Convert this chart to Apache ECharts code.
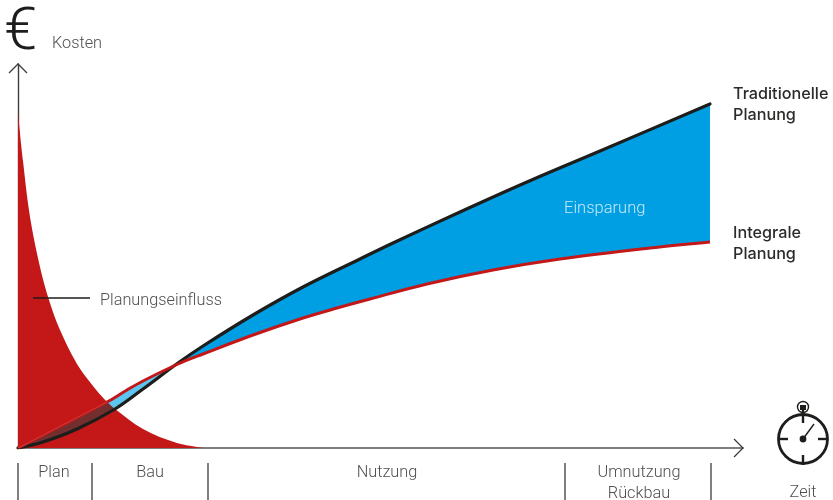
<!DOCTYPE html>
<html>
<head>
<meta charset="utf-8">
<style>html,body{margin:0;padding:0;background:#fff}#c{width:833px;height:500px}</style>
<script src="https://cdn.jsdelivr.net/npm/echarts@6/dist/echarts.min.js"></script>
</head>
<body>
<div id="c"></div>
<script>
// Lifecycle costs over time
const traditionalX = [0, 25, 59, 97, 125, 160, 185, 235, 285, 342, 375, 442, 509, 582, 692];
const traditionalY = [0, 6, 19, 39, 59, 85, 102, 133, 161, 189, 205, 236, 266, 297, 344];
const integralX = [0, 89, 109, 125, 160, 185, 235, 285, 319, 352, 409, 475, 542, 632, 692];
const integralY = [0, 46, 58, 67, 84, 94, 113, 130, 140, 149, 164, 178, 189, 200, 206];
const influenceX = [0, 5, 12, 22, 31, 42, 59, 75, 89, 97, 125, 159, 187];
const influenceY = [335, 287, 231, 181, 148, 118, 84, 62, 46, 39, 19, 5, 0];
const leaderX = [15, 72];
const leaderY = [150, 150];
const phaseEdges = [0, 74, 190, 547, 693];
const phaseCentres = [36, 132, 369, 621];
const phaseNames = ['Plan', 'Bau', 'Nutzung', 'Umnutzung\nRückbau'];
const crossingX = 160;
const influenceJoinTop = 89;
const influenceJoinBottom = 97;

const FONT = 'Roboto';
const TEXT = '#4f4f4e';
const zip = (xs, ys) => xs.map((x, i) => [x, ys[i]]);
const traditional = zip(traditionalX, traditionalY);
const integral = zip(integralX, integralY);
const influence = zip(influenceX, influenceY);

// Filled region bounded by an upper edge and a lower edge
function bandSeries(upper, lower, color, z) {
  return {
    type: 'custom', coordinateSystem: 'cartesian2d', silent: true, z, clip: false,
    data: [[0, 0]],
    renderItem: (params, api) => ({
      type: 'polygon',
      shape: { points: upper.concat(lower.slice().reverse()).map(p => api.coord(p)) },
      style: { fill: color }
    })
  };
}

function text(x, y, str, size, opts) {
  return {
    type: 'text', x, y, silent: true, z: 20,
    style: Object.assign({
      text: str, fontFamily: FONT, fontSize: size, fontWeight: 300,
      fill: TEXT, textAlign: 'left', textVerticalAlign: 'middle'
    }, opts || {})
  };
}
const stroke = (x1, y1, x2, y2, w, color) => ({
  type: 'line', silent: true, z: 20, shape: { x1, y1, x2, y2 },
  style: { stroke: color || '#1d1d1b', lineWidth: w }
});
const openArrow = (points) => ({
  type: 'polyline', silent: true, z: 20, shape: { points },
  style: { stroke: '#3c3c3b', lineWidth: 1.3, fill: 'none' }
});
const endLabel = (formatter, dy) => ({
  show: true, distance: 23, align: 'left', fontFamily: 'Inter', fontWeight: 500, fontSize: 16.2,
  lineHeight: 21, color: '#2b2b2a', formatter, offset: [0, dy]
});

const chart = echarts.init(document.getElementById('c'), null, { renderer: 'canvas' });
chart.setOption({
  animation: false,
  backgroundColor: '#fff',
  grid: { left: 18, top: 64, width: 725, height: 384, containLabel: false, outerBoundsMode: 'none' },
  xAxis: [
    {
      type: 'value', min: 0, max: 725, splitLine: { show: false },
      axisLine: { onZero: false, lineStyle: { color: '#565655', width: 1.6 } },
      axisTick: { show: false }, axisLabel: { show: false }
    },
    {
      type: 'value', min: 0, max: 725, position: 'bottom', offset: 15, splitLine: { show: false },
      axisLine: { show: false },
      axisTick: { show: false },
      axisLabel: {
        show: true, margin: -1, customValues: phaseCentres, fontFamily: FONT, fontWeight: 300, fontSize: 16.3,
        color: TEXT, lineHeight: 21, verticalAlign: 'top',
        formatter: v => phaseNames[phaseCentres.indexOf(v)]
      }
    }
  ],
  yAxis: {
    type: 'value', min: 0, max: 384, splitLine: { show: false },
    axisLine: { onZero: false, lineStyle: { color: '#3c3c3b', width: 1.4 } },
    axisTick: { show: false }, axisLabel: { show: false }
  },
  series: [
    {
      name: 'Planungseinfluss', type: 'line', data: influence, smooth: 0.35, symbol: 'none', z: 2,
      lineStyle: { width: 0 }, areaStyle: { color: '#c41718', opacity: 1 }, silent: true
    },
    bandSeries(traditional.filter(p => p[0] >= crossingX), integral.filter(p => p[0] >= crossingX), '#009fe3', 3),
    bandSeries(integral.filter(p => p[0] >= influenceJoinTop && p[0] <= crossingX),
               traditional.filter(p => p[0] >= influenceJoinBottom && p[0] <= crossingX), '#5cc5f0', 3),
    bandSeries(integral.filter(p => p[0] <= influenceJoinTop),
               traditional.filter(p => p[0] <= influenceJoinBottom), '#732f2e', 3),
    {
      name: 'Traditionelle Planung', type: 'line', data: traditional, smooth: 0.35, symbol: 'none', z: 5, silent: true,
      lineStyle: { color: '#1d1d1b', width: 3.2, cap: 'round' },
      endLabel: endLabel('Traditionelle\nPlanung', 1)
    },
    {
      name: 'Integrale Planung', type: 'line', data: integral, smooth: 0.35, symbol: 'none', z: 6, silent: true,
      lineStyle: { color: '#c41718', width: 3 },
      endLabel: endLabel('Integrale\nPlanung', 2)
    },
    {
      // faint edge where the integral curve crosses the red area
      name: 'Kante', type: 'line', data: integral.filter(p => p[0] <= influenceJoinTop), symbol: 'none', z: 7, silent: true,
      lineStyle: { color: 'rgba(240,175,165,0.35)', width: 0.7 }
    },
    {
      name: 'Hinweislinie', type: 'line', data: zip(leaderX, leaderY), symbol: 'none', z: 7, silent: true,
      lineStyle: { color: '#1d1d1b', width: 1.5 }
    },
    {
      // separators of the life-cycle phases, hanging below the time axis
      name: 'Phasen', type: 'custom', coordinateSystem: 'cartesian2d', silent: true, clip: false, z: 7,
      data: phaseEdges.map(x => [x, 0]),
      renderItem: (params, api) => {
        const p = api.coord([api.value(0), 0]);
        return {
          type: 'line',
          shape: { x1: p[0], y1: p[1] + 15, x2: p[0], y2: p[1] + 52 },
          style: { stroke: '#2b2b2a', lineWidth: 1.2 }
        };
      }
    }
  ],
  graphic: [
    text(4, 34, '€', 60, { fontWeight: 300, fill: '#1d1d1b' }),
    text(52, 44, 'Kosten', 16.3),
    text(100, 301, 'Planungseinfluss', 16.3),
    text(564, 209, 'Einsparung', 16.5, { fill: '#c5e8f8' }),
    text(803, 492.5, 'Zeit', 16.3, { textAlign: 'center' }),
    // arrow heads on both axes
    openArrow([[9, 73], [18, 64], [27, 73]]),
    openArrow([[734, 439], [743, 448], [734, 457]]),
    // stopwatch
    { type: 'circle', silent: true, z: 20, shape: { cx: 803, cy: 439, r: 24.5 }, style: { fill: '#fff', stroke: '#1d1d1b', lineWidth: 2.8 } },
    { type: 'circle', silent: true, z: 20, shape: { cx: 803, cy: 407, r: 5.5 }, style: { fill: '#fff', stroke: '#1d1d1b', lineWidth: 1.4 } },
    { type: 'rect', silent: true, z: 20, shape: { x: 800, y: 405, width: 6, height: 5 }, style: { fill: '#1d1d1b' } },
    stroke(803, 409, 803, 423, 2.4),
    stroke(803, 455, 803, 465, 2.4),
    stroke(778, 439, 788, 439, 2.4),
    stroke(818, 439, 828, 439, 2.4),
    stroke(803, 439, 814, 424, 1.4),
    { type: 'circle', silent: true, z: 20, shape: { cx: 803, cy: 439, r: 3.4 }, style: { fill: '#1d1d1b' } }
  ]
});
</script>
</body>
</html>
